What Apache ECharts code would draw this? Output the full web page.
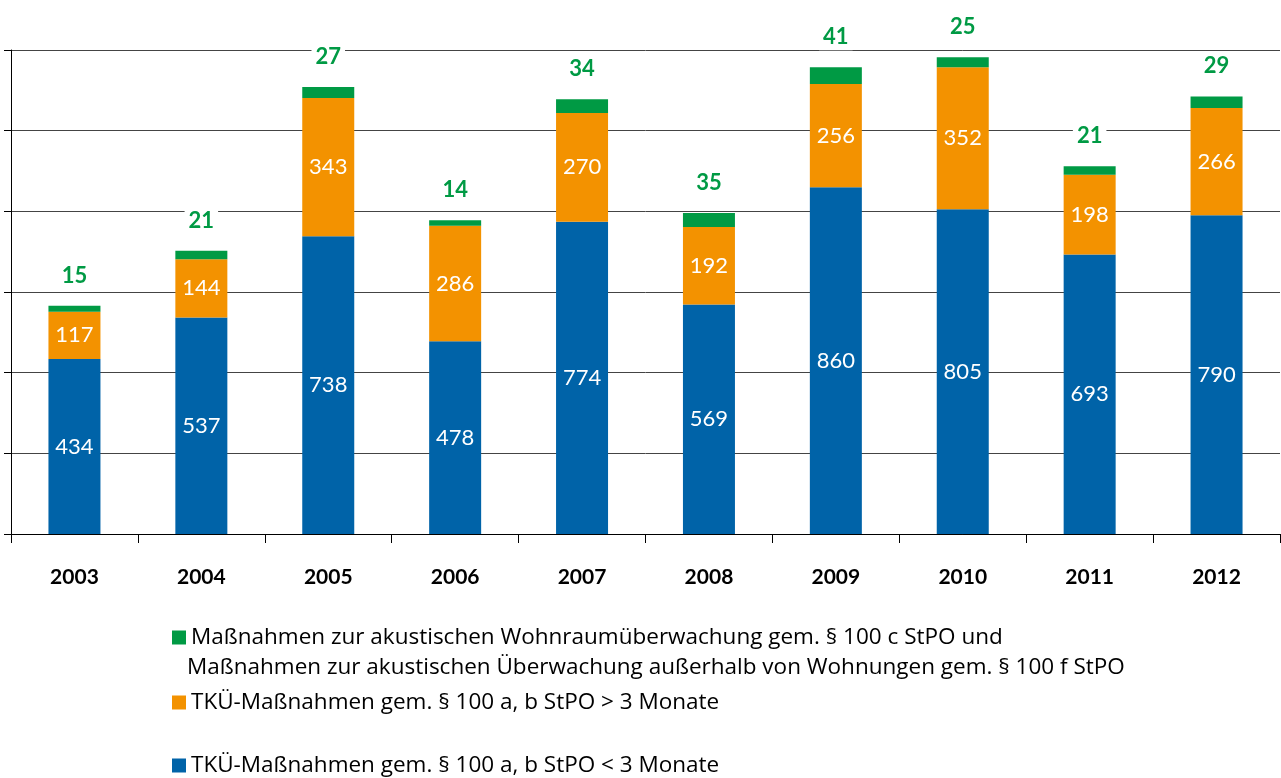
<!DOCTYPE html>
<html>
<head>
<meta charset="utf-8">
<script src="https://cdn.jsdelivr.net/npm/echarts@6/dist/echarts.min.js"></script>
<style>
html,body{margin:0;padding:0;background:#fff;}
#c{width:1281px;height:778px;}
</style>
</head>
<body>
<div id="c"></div>
<script>
var years = ['2003','2004','2005','2006','2007','2008','2009','2010','2011','2012'];
var below3 = [434, 537, 738, 478, 774, 569, 860, 805, 693, 790];
var above3 = [117, 144, 343, 286, 270, 192, 256, 352, 198, 266];
var acoustic = [15, 21, 27, 14, 34, 35, 41, 25, 21, 29];
var yTicks = [0, 200, 400, 600, 800, 1000, 1200];

var nameGreen = 'Maßnahmen zur akustischen Wohnraumüberwachung gem. § 100 c StPO und';
var nameGreen2 = 'Maßnahmen zur akustischen Überwachung außerhalb von Wohnungen gem. § 100 f StPO';
var nameOrange = 'TKÜ-Maßnahmen gem. § 100 a, b StPO > 3 Monate';
var nameBlue = 'TKÜ-Maßnahmen gem. § 100 a, b StPO < 3 Monate';

var FONT = 'Lato';
var LFONT = 'Open Sans';
var chart = echarts.init(document.getElementById('c'));
var legendText = {fontFamily: LFONT, fontSize: 22.5, color: '#000'};
chart.setOption({
  animation: false,
  grid: {left: 11, right: 1, top: 50, bottom: 244, containLabel: false},
  xAxis: {
    type: 'category', data: years,
    axisLine: {show: true, lineStyle: {color: '#000', width: 1}},
    axisTick: {show: true, length: 9, alignWithLabel: false, lineStyle: {color: '#000'}},
    axisLabel: {margin: 33, fontFamily: FONT, fontWeight: 'bold', fontSize: 21, color: '#000'}
  },
  yAxis: {
    type: 'value', min: yTicks[0], max: yTicks[yTicks.length - 1], interval: 200,
    axisLine: {show: true, lineStyle: {color: '#000', width: 1}},
    axisTick: {show: true, length: 7, lineStyle: {color: '#000'}},
    axisLabel: {show: false},
    splitLine: {show: true, lineStyle: {color: '#444', width: 1}}
  },
  legend: [
    {data: [nameGreen], left: 167, top: 621, itemWidth: 14, itemHeight: 14, icon: 'rect', textStyle: legendText, selectedMode: false},
    {data: [nameOrange], left: 167, top: 686, itemWidth: 14, itemHeight: 14, icon: 'rect', textStyle: legendText, selectedMode: false},
    {data: [nameBlue], left: 167, top: 749, itemWidth: 14, itemHeight: 14, icon: 'rect', textStyle: legendText, selectedMode: false}
  ],
  graphic: [
    {type: 'text', left: 187, top: 656, style: {text: nameGreen2, font: '22.5px "' + LFONT + '"', fill: '#000'}}
  ],
  series: [
    {
      name: nameBlue, type: 'bar', stack: 's', data: below3, barWidth: 52,
      itemStyle: {color: '#0063a8'},
      label: {show: true, position: 'inside', color: '#fff', fontFamily: FONT, fontSize: 22}
    },
    {
      name: nameOrange, type: 'bar', stack: 's', data: above3, barWidth: 52,
      itemStyle: {color: '#f39200'},
      label: {show: true, position: 'inside', color: '#fff', fontFamily: FONT, fontSize: 22}
    },
    {
      name: nameGreen, type: 'bar', stack: 's', data: acoustic, barWidth: 52,
      itemStyle: {color: '#009a44'},
      label: {show: true, position: 'top', distance: 17, color: '#009a44', fontFamily: FONT, fontWeight: 'bold', fontSize: 22,
        backgroundColor: '#fff', padding: [2, 4]}
    }
  ]
});
</script>
</body>
</html>
